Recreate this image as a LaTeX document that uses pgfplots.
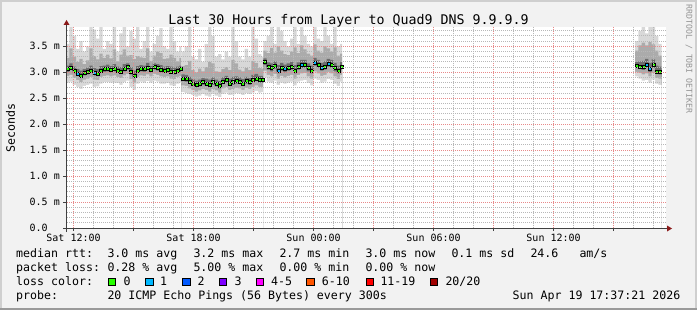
\documentclass[border=0pt]{standalone}
\usepackage{fontspec}
\setmainfont{DejaVu Sans Mono}
\setmonofont{DejaVu Sans Mono}
\usepackage{pgfplots}
\pgfplotsset{compat=1.18}
\usepackage{pgfplotstable}
\definecolor{bgcol}{HTML}{F2F2F2}
\definecolor{shadea}{HTML}{CFCFCF}
\definecolor{shadeb}{HTML}{9A9A9A}
\definecolor{gridcol}{HTML}{B8B8B8}
\definecolor{mgridcol}{HTML}{E88A8A}
\definecolor{axiscol}{HTML}{404040}
\definecolor{arrowcol}{HTML}{8B1A1A}
\definecolor{smokeA}{HTML}{D8D8D8}
\definecolor{smokeB}{HTML}{ABABAB}
\definecolor{smokeC}{HTML}{6E6E6E}
\definecolor{lossa}{HTML}{26FF00}
\definecolor{lossb}{HTML}{00B8FF}
\definecolor{lossc}{HTML}{0059FF}
\definecolor{lossd}{HTML}{7E00FF}
\definecolor{losse}{HTML}{FF00FF}
\definecolor{lossf}{HTML}{FF5500}
\definecolor{lossg}{HTML}{FF0000}
\definecolor{lossh}{HTML}{A00000}

% minutes since Sat 11:37:21; values in ms
\pgfplotstableread{
m lo p10 q1 med q3 p90 hi
0 2.80 2.93 3.01 3.06 3.13 3.28 3.55
10 2.82 2.95 3.04 3.09 3.17 3.46 3.87
20 2.76 2.89 2.98 3.03 3.11 3.30 3.70
30 2.72 2.85 2.93 2.98 3.06 3.20 3.45
40 2.68 2.81 2.89 2.94 3.03 3.26 3.60
50 2.74 2.86 2.94 2.99 3.06 3.16 3.40
60 2.76 2.88 2.96 3.01 3.09 3.23 3.50
70 2.78 2.91 2.99 3.04 3.13 3.46 3.87
80 2.72 2.86 2.94 2.99 3.08 3.31 3.82
90 2.73 2.85 2.93 2.98 3.06 3.25 3.65
100 2.78 2.91 2.99 3.04 3.12 3.36 3.87
110 2.81 2.93 3.01 3.06 3.13 3.28 3.45
120 2.81 2.94 3.02 3.07 3.15 3.34 3.60
130 2.80 2.92 3.00 3.05 3.12 3.27 3.55
140 2.80 2.94 3.02 3.07 3.16 3.44 3.87
150 2.79 2.91 2.99 3.04 3.11 3.21 3.40
160 2.76 2.89 2.97 3.02 3.10 3.34 3.75
170 2.81 2.94 3.02 3.07 3.16 3.44 3.87
180 2.84 2.97 3.05 3.10 3.17 3.32 3.50
190 2.72 2.87 2.96 3.01 3.10 3.33 3.80
200 2.66 2.80 2.89 2.94 3.03 3.26 3.65
210 2.78 2.91 2.99 3.04 3.12 3.31 3.87
220 2.82 2.94 3.02 3.07 3.14 3.29 3.45
230 2.80 2.93 3.01 3.06 3.13 3.28 3.60
240 2.83 2.96 3.04 3.09 3.18 3.46 3.87
250 2.80 2.92 3.00 3.05 3.12 3.22 3.40
260 2.84 2.97 3.05 3.10 3.17 3.32 3.55
270 2.82 2.95 3.03 3.08 3.16 3.40 3.70
280 2.78 2.92 3.00 3.05 3.14 3.37 3.85
290 2.78 2.91 2.99 3.04 3.11 3.26 3.50
300 2.79 2.92 3.00 3.05 3.12 3.27 3.45
310 2.75 2.88 2.97 3.02 3.11 3.34 3.87
320 2.74 2.87 2.96 3.01 3.09 3.28 3.60
330 2.78 2.91 2.99 3.04 3.11 3.21 3.40
340 2.80 2.93 3.01 3.06 3.13 3.28 3.50
346 2.80 2.93 3.01 3.06 3.13 3.28 3.50
}\segA

\pgfplotstableread{
m lo p10 q1 med q3 p90 hi
346 2.62 2.75 2.83 2.88 2.96 3.12 3.40
356 2.60 2.74 2.82 2.87 2.95 3.14 3.50
366 2.58 2.69 2.77 2.82 2.91 3.22 3.87
376 2.56 2.66 2.74 2.79 2.87 3.04 3.30
386 2.53 2.63 2.71 2.76 2.84 3.00 3.25
396 2.55 2.65 2.73 2.78 2.86 3.07 3.45
406 2.58 2.68 2.76 2.81 2.89 3.02 3.20
416 2.55 2.66 2.74 2.79 2.88 3.10 3.55
426 2.53 2.63 2.71 2.76 2.86 3.20 3.87
436 2.58 2.68 2.76 2.81 2.90 3.17 3.70
446 2.55 2.65 2.73 2.78 2.86 3.02 3.30
456 2.52 2.61 2.69 2.74 2.83 3.01 3.35
466 2.58 2.69 2.77 2.82 2.90 3.06 3.25
476 2.61 2.72 2.80 2.85 2.93 3.10 3.40
486 2.56 2.66 2.74 2.79 2.88 3.04 3.30
496 2.57 2.68 2.76 2.81 2.91 3.24 3.87
506 2.60 2.70 2.78 2.83 2.92 3.17 3.60
516 2.59 2.69 2.77 2.82 2.90 3.05 3.30
526 2.56 2.66 2.74 2.79 2.87 3.02 3.25
536 2.60 2.70 2.78 2.83 2.91 3.08 3.45
546 2.58 2.68 2.76 2.81 2.89 3.04 3.30
556 2.61 2.72 2.80 2.85 2.95 3.22 3.87
566 2.64 2.75 2.83 2.88 2.97 3.18 3.65
576 2.61 2.72 2.80 2.85 2.93 3.08 3.35
586 2.62 2.72 2.80 2.85 2.93 3.07 3.30
592 2.62 2.72 2.80 2.85 2.93 3.07 3.30
}\segB

\pgfplotstableread{
m lo p10 q1 med q3 p90 hi
592 2.90 3.03 3.14 3.20 3.27 3.42 3.60
602 2.82 2.95 3.05 3.11 3.19 3.37 3.70
612 2.80 2.92 3.02 3.08 3.17 3.47 3.87
622 2.84 2.97 3.07 3.13 3.21 3.38 3.55
632 2.76 2.88 2.98 3.04 3.14 3.50 3.87
642 2.80 2.93 3.03 3.09 3.18 3.42 3.80
652 2.78 2.90 3.00 3.06 3.15 3.35 3.60
662 2.80 2.93 3.03 3.09 3.17 3.33 3.50
672 2.82 2.95 3.05 3.11 3.20 3.40 3.65
682 2.75 2.88 2.98 3.04 3.14 3.48 3.87
692 2.82 2.95 3.05 3.11 3.19 3.37 3.55
702 2.84 2.98 3.08 3.14 3.24 3.52 3.87
712 2.85 2.99 3.09 3.15 3.24 3.44 3.70
722 2.79 2.92 3.02 3.08 3.17 3.36 3.55
732 2.75 2.88 2.98 3.04 3.13 3.32 3.50
742 2.88 3.02 3.13 3.19 3.28 3.54 3.87
752 2.85 2.98 3.09 3.15 3.24 3.42 3.65
762 2.80 2.93 3.03 3.09 3.18 3.38 3.60
772 2.82 2.95 3.05 3.11 3.21 3.50 3.87
782 2.87 3.01 3.11 3.17 3.26 3.46 3.70
792 2.85 2.98 3.09 3.15 3.24 3.40 3.55
802 2.78 2.92 3.02 3.08 3.18 3.48 3.87
812 2.74 2.87 2.98 3.04 3.13 3.32 3.50
822 2.82 2.95 3.05 3.11 3.20 3.36 3.55
828 2.82 2.95 3.05 3.11 3.20 3.36 3.55
}\segC

\pgfplotstableread{
m lo p10 q1 med q3 p90 hi
1707 2.92 3.01 3.08 3.12 3.20 3.42 3.60
1717 2.88 2.99 3.06 3.11 3.21 3.52 3.80
1727 2.84 2.96 3.04 3.10 3.22 3.57 3.87
1737 2.85 2.98 3.09 3.15 3.26 3.52 3.75
1747 2.80 2.92 3.00 3.06 3.18 3.58 3.87
1757 2.86 2.99 3.08 3.14 3.25 3.54 3.87
1767 2.78 2.89 2.97 3.02 3.13 3.42 3.70
1777 2.76 2.88 2.96 3.01 3.11 3.32 3.55
1787 2.76 2.88 2.96 3.01 3.11 3.32 3.55
}\segD

\newcommand\smokeseg[1]{%
  \addplot[const plot, draw=none, fill=smokeA] table[x=m,y=hi]{#1} \closedcycle;
  \addplot[const plot, draw=none, fill=smokeB] table[x=m,y=p90]{#1} \closedcycle;
  \addplot[const plot, draw=none, fill=smokeC] table[x=m,y=q3]{#1} \closedcycle;
  \addplot[const plot, draw=none, fill=smokeB] table[x=m,y=q1]{#1} \closedcycle;
  \addplot[const plot, draw=none, fill=smokeA] table[x=m,y=p10]{#1} \closedcycle;
  \addplot[const plot, draw=none, fill=white] table[x=m,y=lo]{#1} \closedcycle;
}
\newcommand\medseg[2]{%
  \addplot[const plot, draw=black!60, line width=0.7bp, mark=none] table[x=m,y=med]{#1};
  \addplot[only marks, mark=square*, mark size=1.5bp, mark options={draw=none,fill=lossa},
    skip coords between index={#2}{100}] table[x expr=\thisrow{m}+5,y=med]{#1};
}

\begin{document}
\begin{tikzpicture}[x=1bp,y=1bp]
\fill[bgcol] (0,0) rectangle (697,310);
\useasboundingbox (0,0) rectangle (697,310);
\fill[shadea] (0,308) rectangle (697,310);
\fill[shadea] (0,0) rectangle (2,310);
\fill[shadea] (695,0) rectangle (697,310);
\fill[shadeb] (0,0) rectangle (697,2);

\begin{axis}[
  at={(66bp,82bp)}, anchor=south west,
  scale only axis, width=600bp, height=201bp,
  xmin=0, xmax=1800, ymin=0, ymax=3.873,
  axis background/.style={fill=white},
  axis on top, clip=true,
  axis line style={draw=none},
  /pgf/number format/assume math mode=true,
  tick style={draw=axiscol, line width=0.8bp},
  major tick length=3bp, minor tick length=0bp,
  tick align=outside, tick pos=left,
  xtick={22.65,202.65,382.65,562.65,742.65,922.65,1102.65,1282.65,1462.65,1642.65},
  xticklabels={Sat 12:00,,Sat 18:00,,Sun 00:00,,Sun 06:00,,Sun 12:00,},
  ytick={0,0.5,1,1.5,2,2.5,3,3.5},
  yticklabels={0.0\phantom{\ m},0.5 m,1.0 m,1.5 m,2.0 m,2.5 m,3.0 m,3.5 m},
  ticklabel style={font=\fontsize{10bp}{12bp}\selectfont, inner sep=0pt},
  yticklabel style={anchor=east, xshift=-3bp},
  xticklabel style={anchor=north, yshift=-3bp},
]
\smokeseg{\segA}
\smokeseg{\segB}
\smokeseg{\segC}
\smokeseg{\segD}
\medseg{\segA}{35}
\medseg{\segB}{25}
\medseg{\segC}{24}
\medseg{\segD}{8}
\addplot[only marks, mark=square*, mark size=1.5bp, mark options={draw=none,fill=lossb}]
  coordinates {(35,2.98) (85,2.99) (637,3.04) (657,3.06) (707,3.14) (747,3.19) (767,3.09) (787,3.17) (1742,3.15) (1752,3.06)};
\end{axis}

% grid (drawn over the data, pixel aligned dotted lines)
\foreach \k in {0,...,29} {
  \pgfmathsetmacro\gx{73.5+20*\k}
  \pgfmathtruncatemacro\mk{mod(\k,3)}
  \ifnum\mk=0 \def\gc{mgridcol}\else\def\gc{gridcol}\fi
  \draw[\gc, line width=1bp, dash pattern=on 1bp off 1bp] (\gx,82) -- (\gx,283);
}
\foreach \j in {1,...,38} {
  \pgfmathsetmacro\gy{floor(82+5.1898*\j)+0.5}
  \pgfmathtruncatemacro\mj{mod(\j,5)}
  \ifnum\mj=0 \def\gc{mgridcol}\else\def\gc{gridcol}\fi
  \draw[\gc, line width=1bp, dash pattern=on 1bp off 1bp] (67,\gy) -- (666,\gy);
}

% axes and arrows
\draw[axiscol, line width=1bp] (63,81.5) -- (667,81.5);
\fill[arrowcol] (667,84.5) -- (672,81.5) -- (667,78.5) -- cycle;
\draw[axiscol, line width=1bp] (66.5,78) -- (66.5,285);
\fill[arrowcol] (63.5,285) -- (66.5,290) -- (69.5,285) -- cycle;

% title, labels
\node[anchor=base, inner sep=0pt] at (348.5,286) {\fontsize{13.3bp}{16bp}\selectfont Last 30 Hours from Layer to Quad9 DNS 9.9.9.9};
\node[rotate=90, inner sep=0pt] at (10.5,182) {\fontsize{11.6bp}{14bp}\selectfont Seconds};
\node[rotate=-90, inner sep=0pt, text=black!42] at (689,251) {\fontsize{8.2bp}{10bp}\selectfont RRDTOOL / TOBI OETIKER};

\begingroup
\fontsize{11.6bp}{14bp}\selectfont
\tikzset{lg/.style={anchor=base west, inner sep=0pt}}
\node[lg] at (16,52.5) {median rtt:};
\node[lg] at (107.3,52.5) {3.0 ms avg};
\node[lg] at (193.3,52.5) {3.2 ms max};
\node[lg] at (279.3,52.5) {2.7 ms min};
\node[lg] at (365.3,52.5) {3.0 ms now};
\node[lg] at (451.3,52.5) {0.1 ms sd};
\node[lg] at (530.3,52.5) {24.6};
\node[lg] at (579.3,52.5) {am/s};
\node[lg] at (16,38.5) {packet loss:};
\node[lg] at (107.3,38.5) {0.28 \% avg};
\node[lg] at (193.3,38.5) {5.00 \% max};
\node[lg] at (279.3,38.5) {0.00 \% min};
\node[lg] at (365.3,38.5) {0.00 \% now};
\node[lg] at (16,24.3) {loss color:};
\foreach \bx/\col/\lx/\txt in {108.3/lossa/123.3/0, 145.7/lossb/160/1, 182.7/lossc/197.3/2, 219.3/lossd/234.3/3, 256/losse/271/4-5, 306.7/lossf/321.7/6-10, 366/lossg/380.3/11-19, 430.3/lossh/445.3/{20/20}}{
  \filldraw[fill=\col, draw=black, line width=0.8bp] (\bx,24.7) rectangle ++(7.4,7.4);
  \node[lg] at (\lx,24.3) {\txt};
}
\node[lg] at (16,10.3) {probe:};
\node[lg] at (107.3,10.3) {20 ICMP Echo Pings (56 Bytes) every 300s};
\node[anchor=base east, inner sep=0pt] at (680.5,10.3) {Sun Apr 19 17:37:21 2026};
\endgroup
\end{tikzpicture}
\end{document}
